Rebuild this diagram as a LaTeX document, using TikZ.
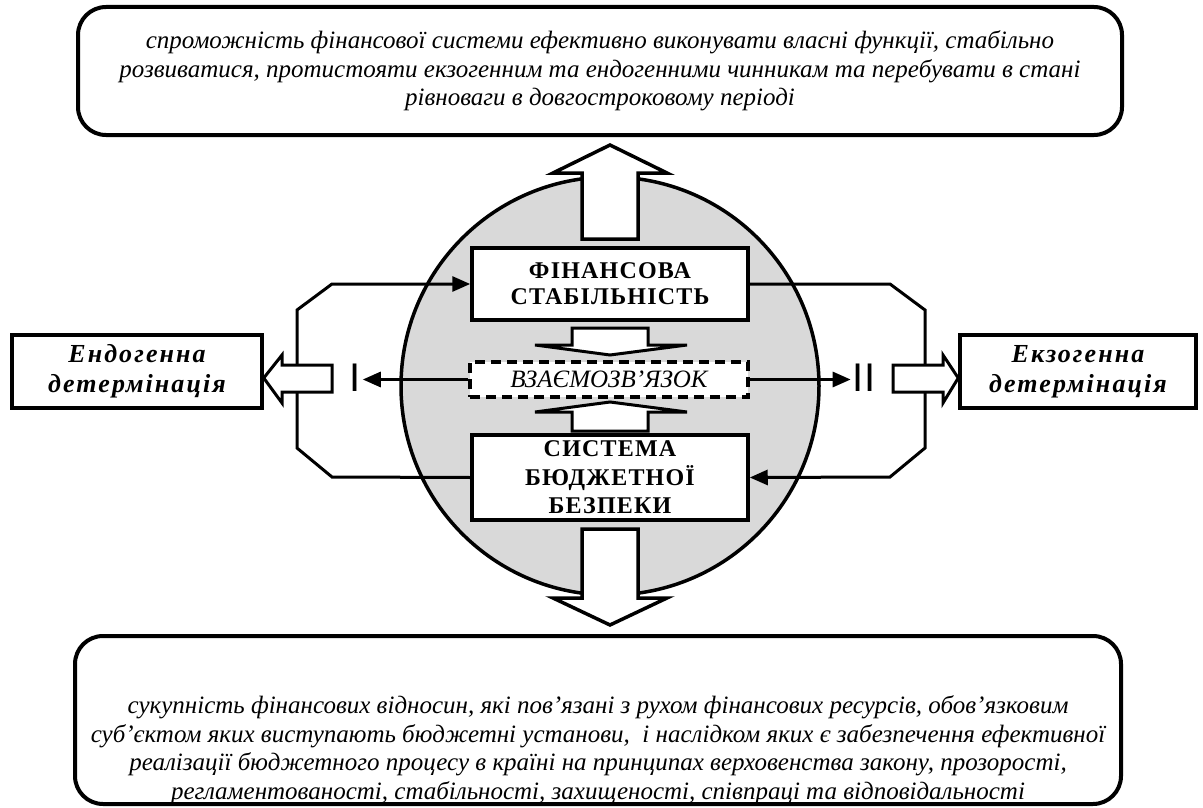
\documentclass[tikz,border=0pt]{standalone}
\usepackage{fontspec}
\setmainfont{Liberation Serif}
\newfontfamily\timesfam{Liberation Serif}
\newfontfamily\timesspaced{Liberation Serif}[LetterSpace=8]
\newfontfamily\timescaps{Liberation Serif}[LetterSpace=5]
\newfontfamily\sansfam{Liberation Sans}
\usetikzlibrary{arrows.meta}
\definecolor{circgray}{HTML}{D9D9D9}
\tikzset{
  rbox/.style={draw, line width=4pt, rounded corners=28pt, fill=white},
  sqbox/.style={draw, line width=3.5pt, fill=white, inner sep=0pt},
  dashbox/.style={draw, line width=3.5pt, fill=white, dash pattern=on 10pt off 6pt, inner sep=0pt},
  conn/.style={line width=3pt},
  tip/.style={-{Triangle[length=18pt,width=15pt]}},
  block/.style={draw, line width=3.5pt, fill=white, line join=miter},
  roman/.style={font=\sansfam\fontsize{40}{40}\selectfont, inner sep=2pt},
  desc/.style={font=\timesfam\itshape\fontsize{25}{28.5}\selectfont, align=center, inner sep=0pt},
  capbox/.style={sqbox, font=\timescaps\bfseries\fontsize{24}{26}\selectfont, align=center},
  sidebox/.style={sqbox, font=\timesspaced\bfseries\itshape\fontsize{26}{30}\selectfont, align=center},
}
\begin{document}
\begin{tikzpicture}[x=1pt,y=-1pt]
\useasboundingbox (0,0) rectangle (1203,808);

% top and bottom description boxes
\node[rbox, minimum width=1044pt, minimum height=128pt] (top) at (600,71) {};
\node[desc] (toptxt) at (top.center) {спроможність фінансової системи ефективно виконувати власні функції, стабільно\\
розвиватися, протистояти екзогенним та ендогенними чинникам та перебувати в стані\\
рівноваги в довгостроковому періоді};

\node[rbox, minimum width=1046pt, minimum height=168pt] (bot) at (598,720) {};
\node[desc] (bottxt) at (598,750) {сукупність фінансових відносин, які пов’язані з рухом фінансових ресурсів, обов’язковим\\
суб’єктом яких виступають бюджетні установи,\ \ і наслідком яких є забезпечення ефективної\\
реалізації бюджетного процесу в країні на принципах верховенства закону, прозорості,\\
регламентованості, стабільності, захищеності, співпраці та відповідальності};

% central circle
\node[circle, draw, line width=3.5pt, fill=circgray, minimum size=418pt, inner sep=0pt] (circ) at (610,386) {};

% big block arrows up and down
\draw[block] (582,239) -- (582,173) -- (553,173) -- (610,145) -- (667,173) -- (638,173) -- (638,239) -- cycle;
\draw[block] (582,529) -- (582,598) -- (553,598) -- (610,625) -- (667,598) -- (638,598) -- (638,529) -- cycle;

% inner boxes
\node[capbox, minimum width=276pt, minimum height=72pt] (fin) at (610,284) {ФІНАНСОВА\\СТАБІЛЬНІСТЬ};
\node[capbox, minimum width=276pt, minimum height=85pt, font=\timescaps\bfseries\fontsize{24}{28.5}\selectfont] (bud) at (610,477.5) {СИСТЕМА\\БЮДЖЕТНОЇ\\БЕЗПЕКИ};
\node[dashbox, minimum width=278pt, minimum height=35pt, font=\timesfam\itshape\fontsize{25}{26}\selectfont] (rel) at (609,379.5) {ВЗАЄМОЗВ’ЯЗОК};

% small block arrows towards the relation box
\draw[block, line width=3pt] (572,328) -- (572,345) -- (535,345) -- (610,355) -- (687,345) -- (648,345) -- (648,328) -- cycle;
\draw[block, line width=3pt] (572,431) -- (572,412) -- (535,412) -- (610,402) -- (687,412) -- (648,412) -- (648,431) -- cycle;

% side boxes
\node[sidebox, minimum width=250pt, minimum height=73pt] (endo) at (137,371.5) {Ендогенна\\детермінація};
\node[sidebox, minimum width=236pt, minimum height=73pt] (exo) at (1078,371.5) {Екзогенна\\детермінація};

% roman labels
\node[roman] (one) at (355,378) {I};
\node[roman] (two) at (864,378) {II};

% feedback connectors
\draw[conn, tip] (bud.west) -- (332,477) -- (297,448) -- (297,310) -- (332,284) -- (fin.west);
\draw[conn, tip] (fin.east) -- (890,284) -- (925,310) -- (925,448) -- (890,477) -- (bud.east);

% arrows from relation box to roman labels
\draw[conn, tip] (rel.west) -- (rel.west -| one.east);
\draw[conn, tip] (rel.east) -- (rel.east -| two.west);

% hollow arrows to side boxes
\draw[block, line width=3pt] (332,365) -- (282,365) -- (282,355) -- (endo.east |- one) -- (282,403) -- (282,392) -- (332,392) -- cycle;
\draw[block, line width=3pt] (893,365) -- (943,365) -- (943,355) -- (exo.west |- two) -- (943,403) -- (943,392) -- (893,392) -- cycle;
\end{tikzpicture}
\end{document}
